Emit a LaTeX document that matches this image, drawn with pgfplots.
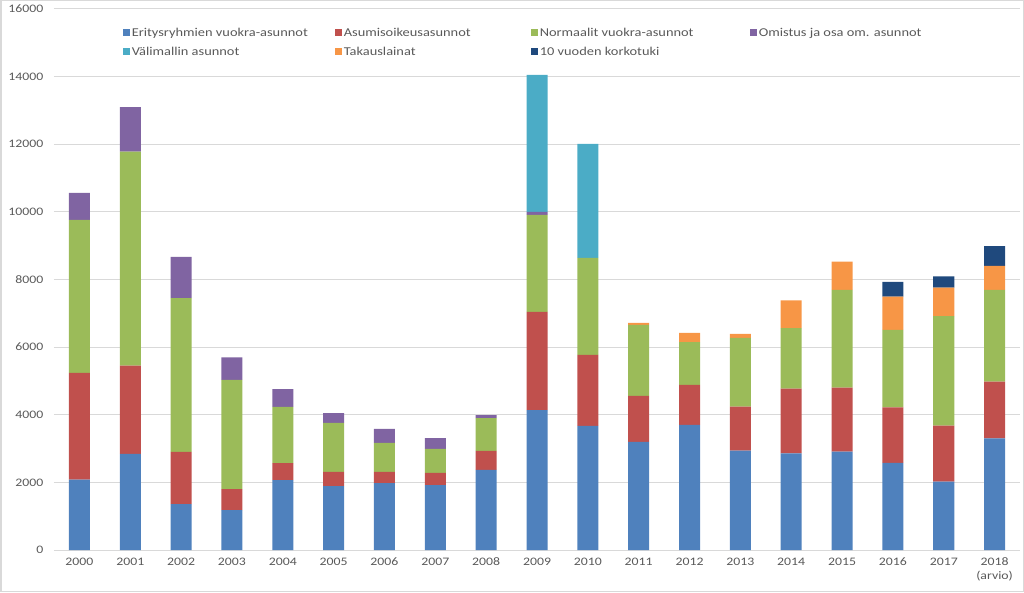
\documentclass[border=0pt]{standalone}
\usepackage{fontspec}
\setmainfont{Carlito}[FakeStretch=1.2]
\usepackage{pgfplots}
\usepackage{pgfplotstable}
\pgfplotsset{compat=1.18}
\definecolor{cblue}{HTML}{4F81BD}
\definecolor{cred}{HTML}{C0504D}
\definecolor{cgreen}{HTML}{9BBB59}
\definecolor{cpurple}{HTML}{8064A2}
\definecolor{ccyan}{HTML}{4BACC6}
\definecolor{corange}{HTML}{F79646}
\definecolor{cnavy}{HTML}{1F497D}
\definecolor{tickgray}{HTML}{595959}
\pgfplotstableread{
x blue red green purple cyan orange navy
0  2080 3160 4520 800  0    0   0
1  2840 2610 6330 1320 0    0   0
2  1360 1540 4550 1220 0    0   0
3  1180 620  3230 670  0    0   0
4  2070 500  1660 530  0    0   0
5  1890 420  1450 290  0    0   0
6  1980 330  860  410  0    0   0
7  1920 360  710  320  0    0   0
8  2370 560  970  90   0    0   0
9  4140 2900 2870 90   4050 0   0
10 3670 2100 2870 0    3370 0   0
11 3200 1360 2100 0    0    60  0
12 3700 1180 1270 0    0    270 0
13 2940 1300 2030 0    0    120 0
14 2860 1910 1790 0    0    820 0
15 2910 1890 2890 0    0    840 0
16 2580 1640 2290 0    0    980 440
17 2020 1660 3240 0    0    840 330
18 3300 1680 2710 0    0    710 590
}\data
\begin{document}
\begin{tikzpicture}
\useasboundingbox (0,0) rectangle (1024pt,592pt);
\draw[gray!30, line width=1.5pt] (0.75pt,0.75pt) rectangle (1023.25pt,591.25pt);
\begin{axis}[
  at={(54pt,42pt)}, anchor=south west, scale only axis,
  width=966pt, height=541pt,
  xmin=-0.5, xmax=18.5, ymin=0, ymax=16000,
  ybar stacked, bar width=21pt,
  xtick={0,...,18},
  xticklabels={2000,2001,2002,2003,2004,2005,2006,2007,2008,2009,2010,2011,2012,2013,2014,2015,2016,2017,{2018\\(arvio)}},
  ytick={0,2000,...,16000},
  ymajorgrids, grid style={gray!30, line width=1pt},
  axis line style={draw=none}, major tick length=0pt,
  tick label style={font=\fontsize{11.5}{14}\selectfont, text=tickgray},
  xticklabel style={align=center, yshift=-4pt},
  yticklabel style={xshift=-7pt},
  /pgf/number format/assume math mode=true,
  /pgf/number format/1000 sep={},
  scaled y ticks=false,
  legend columns=4,
  legend cell align=left,
  legend style={draw=none, fill=none, at={(0.071,0.969)}, anchor=north west,
    font=\fontsize{12}{14}\selectfont, text=tickgray, row sep=5pt, inner sep=0pt},
  legend image code/.code={\path[#1,/tikz/.cd,draw=none,yshift=-3.5pt] (0pt,0pt) rectangle (7pt,7pt);},
]
\addplot[fill=cblue, draw=none] table[x=x, y=blue] {\data};
\addplot[fill=cred, draw=none] table[x=x, y=red] {\data};
\addplot[fill=cgreen, draw=none] table[x=x, y=green] {\data};
\addplot[fill=cpurple, draw=none] table[x=x, y=purple] {\data};
\addplot[fill=ccyan, draw=none] table[x=x, y=cyan] {\data};
\addplot[fill=corange, draw=none] table[x=x, y=orange] {\data};
\addplot[fill=cnavy, draw=none] table[x=x, y=navy] {\data};
\legend{\makebox[201pt][l]{Eritysryhmien vuokra-asunnot},\makebox[185pt][l]{Asumisoikeusasunnot},\makebox[208pt][l]{Normaalit vuokra-asunnot},Omistus ja osa om. asunnot,\makebox[201pt][l]{Välimallin asunnot},\makebox[185pt][l]{Takauslainat},\makebox[208pt][l]{10 vuoden korkotuki}}
\end{axis}
\end{tikzpicture}
\end{document}
